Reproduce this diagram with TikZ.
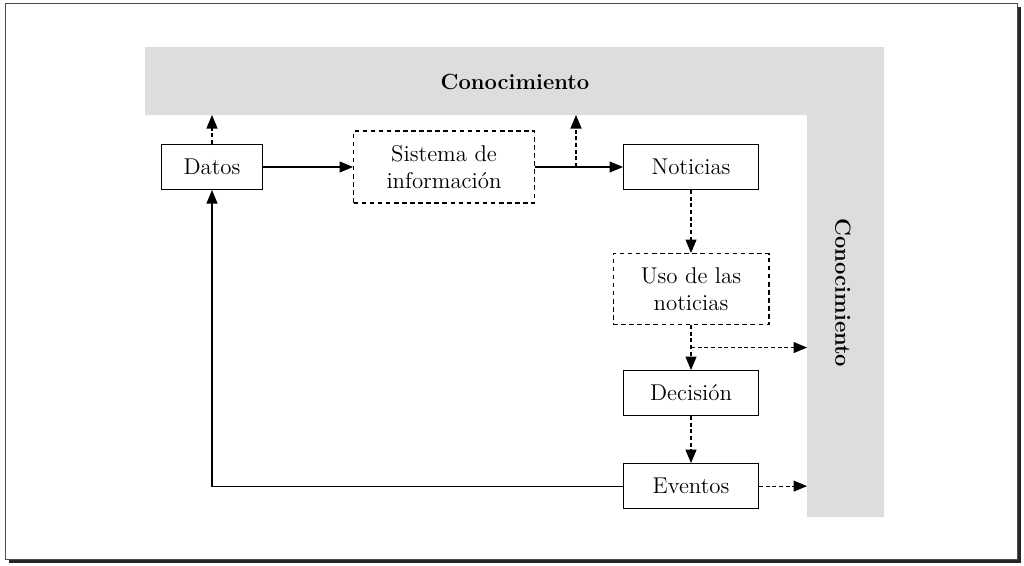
\documentclass[tikz,border=0pt]{standalone}
\usetikzlibrary{positioning,calc,arrows.meta}
\definecolor{gris}{RGB}{220,221,223}

\tikzset{
  caja/.style={draw, line width=0.6pt, minimum height=0.9cm, inner sep=2pt, font=\fontsize{13}{15.5}\selectfont},
  cajap/.style={caja, dash pattern=on 2.6pt off 2pt, align=center},
  flecha/.style={line width=0.6pt, -{Triangle[length=2.7mm,width=2.2mm]}},
  flechap/.style={flecha, dash pattern=on 2.2pt off 1.6pt},
  rotulo/.style={font=\fontsize{12.5}{15}\selectfont\bfseries}
}

\begin{document}
\begin{tikzpicture}[x=0.02cm, y=-0.02cm, node distance=1.8cm]
\useasboundingbox (0,0) rectangle (1024,565);

% marco con sombra
\fill[black!85] (9,7) rectangle (1021,563);
\draw[black!70, fill=white, line width=0.5pt] (5,3) rectangle (1017,559);

% zona de conocimiento
\fill[gris] (145,47) -- (884,47) -- (884,517) -- (807,517) -- (807,115) -- (145,115) -- cycle;
\node[rotulo] (conoc_arriba) at (515,82) {Conocimiento};
\node[rotulo, rotate=-90] (conoc_lado) at (843,293) {Conocimiento};
\coordinate (techo) at (0,115);
\coordinate (pared) at (807,0);

\node[caja, minimum width=2.02cm]		(datos)		at (212,167) {Datos};
\node[cajap, minimum width=3.62cm, minimum height=1.44cm, right = of datos]		(sistema)	{Sistema de\\información};
\node[caja, minimum width=2.7cm, right = 1.76cm of sistema]		(noticias)	{Noticias};
\node[cajap, minimum width=3.12cm, minimum height=1.42cm, below = 1.26cm of noticias]	(uso)	{Uso de las\\noticias};
\node[caja, minimum width=2.7cm, below = 0.9cm of uso]		(decision)	{Decisión};
\node[caja, minimum width=2.7cm, below = 0.94cm of decision]		(eventos)	{Eventos};

\coordinate (ramal_sis) at (576,167);
\coordinate (ramal_uso) at ($(uso.south)!0.5!(decision.north)$);

\draw[flecha] (datos) -- (sistema);
\draw[flecha] (sistema) -- (noticias);
\draw[flechap] (datos.north) -- (datos.north |- techo);
\draw[flechap] (ramal_sis) -- (ramal_sis |- techo);
\draw[flechap] (noticias) -- (uso);
\draw[flechap] (uso) -- (decision);
\draw[flechap] (ramal_uso) -- (ramal_uso -| pared);
\draw[flechap] (decision) -- (eventos);
\draw[flechap] (eventos.east) -- (eventos.east -| pared);
\draw[flecha] (eventos.west) -| (datos.south);
\end{tikzpicture}
\end{document}
